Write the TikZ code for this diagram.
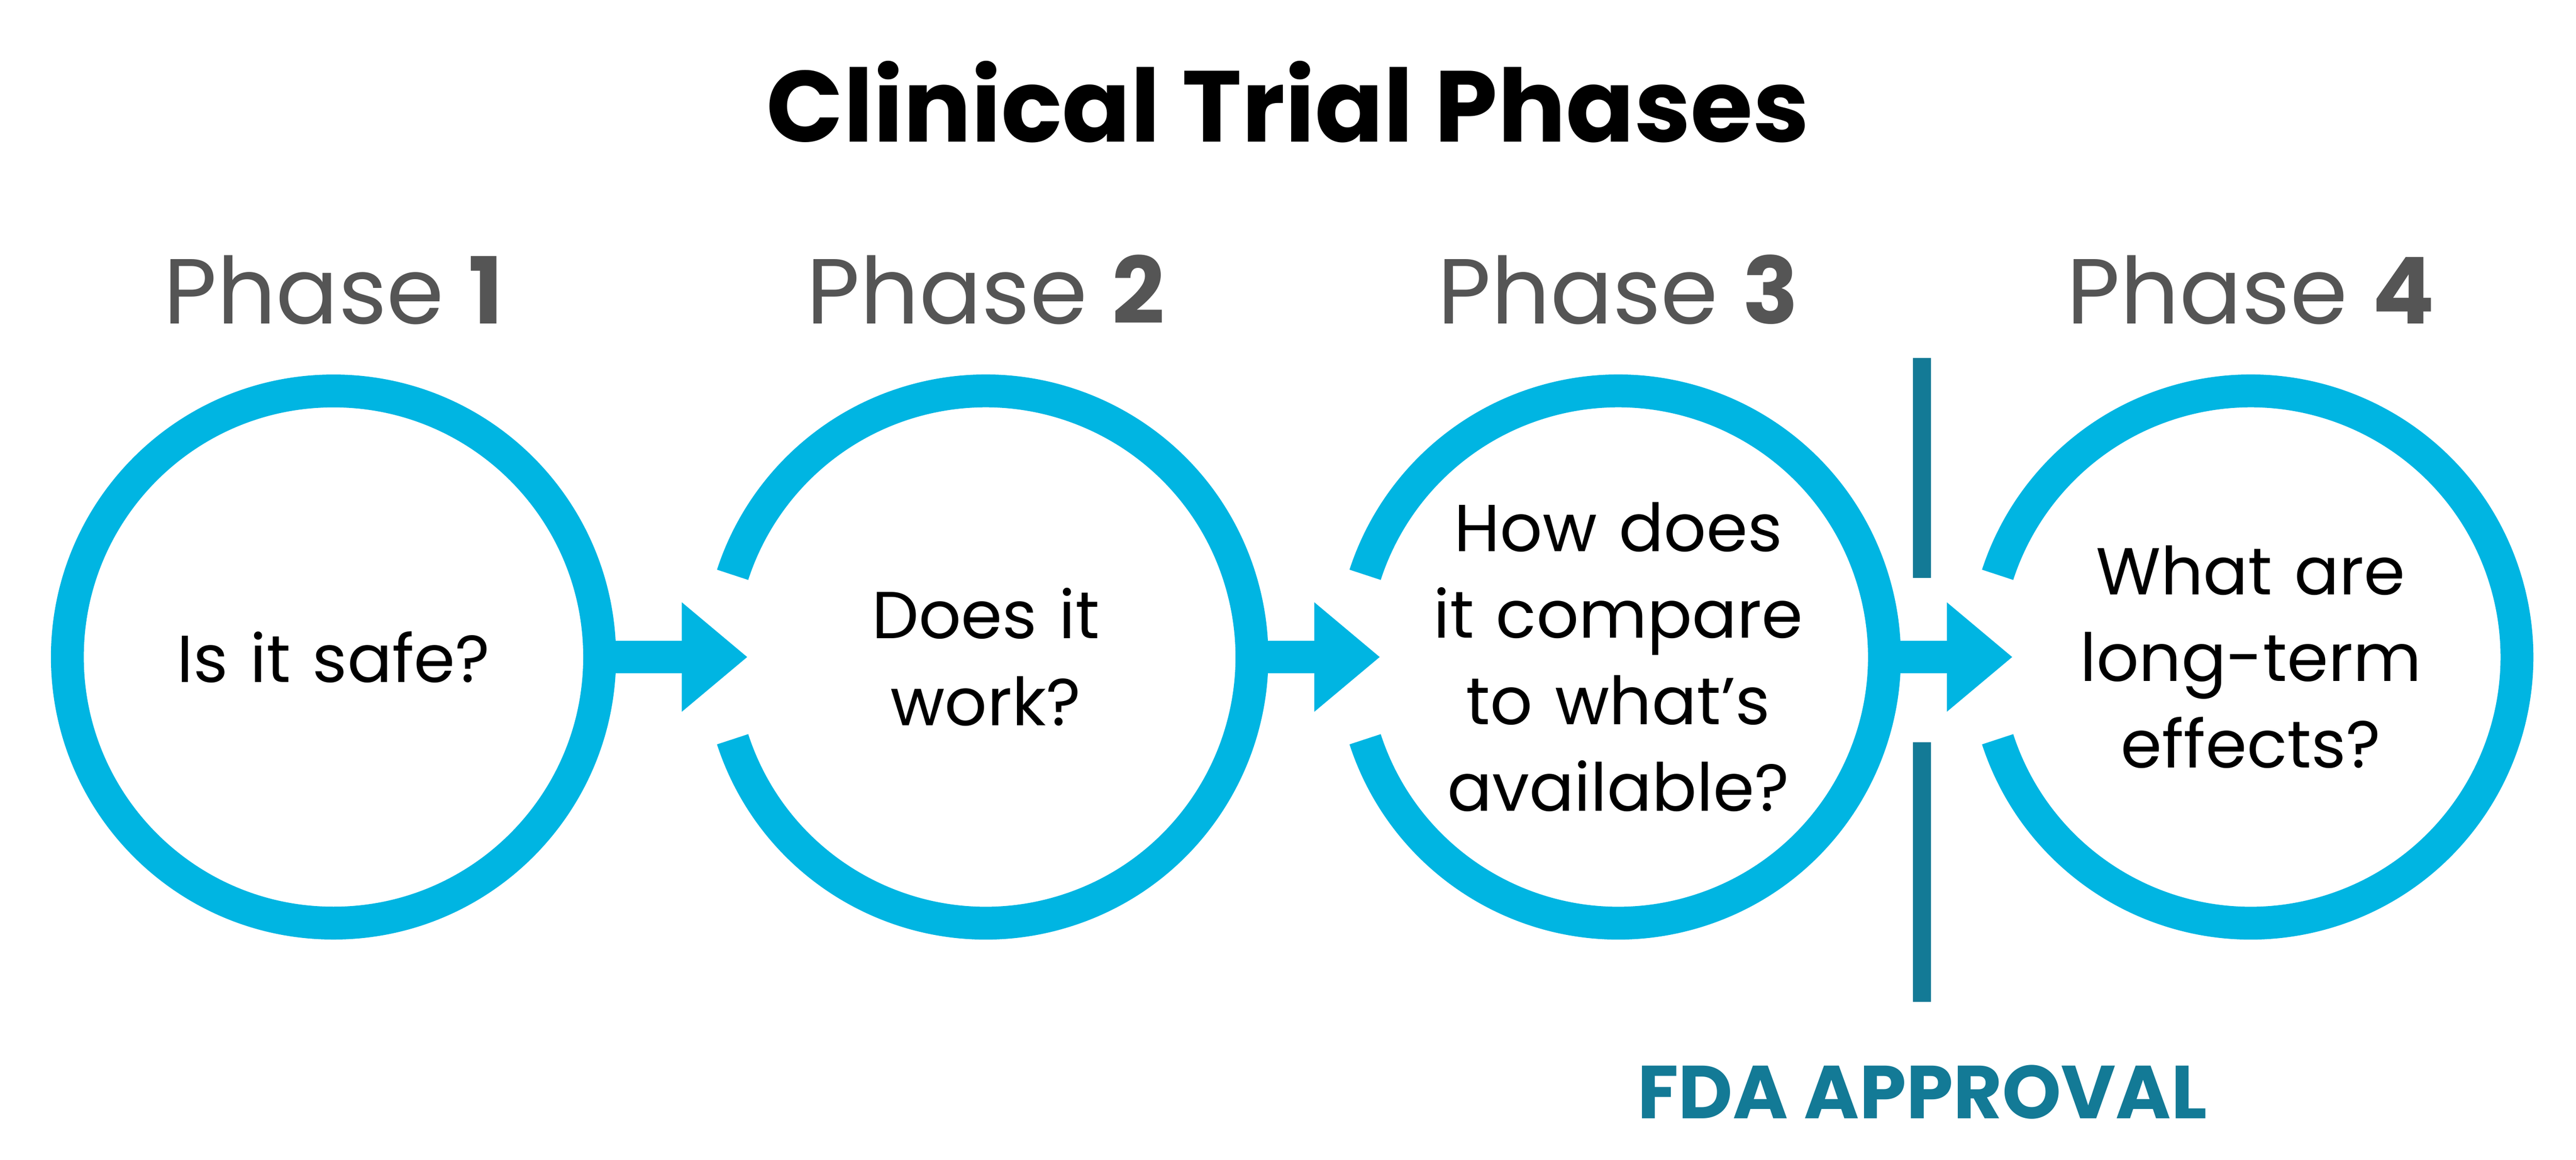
\documentclass[tikz,border=0pt]{standalone}
\usepackage{fontspec}
\setmainfont{Poppins}
\usepackage{xcolor}
\usetikzlibrary{arrows.meta,positioning,calc}
\definecolor{trialcyan}{HTML}{00B5E2}
\definecolor{fdateal}{HTML}{137A96}
\definecolor{phasegray}{HTML}{555555}

\begin{document}
\begin{tikzpicture}[
    ring/.style={circle, minimum size=3.24cm, inner sep=0pt, outer sep=0pt},
    question/.style={align=center, font=\fontsize{11.5}{15}\selectfont, text width=2.6cm},
    phaselabel/.style={font=\fontsize{16}{18}\selectfont, text=phasegray},
    flow/.style={-{Triangle[length=0.4cm,width=0.64cm]}, line width=0.2cm, draw=trialcyan},
    gate/.style={line width=0.11cm, draw=fdateal}
]
\useasboundingbox (0,0) rectangle (15.68,7.06);

\node[font=\bfseries\fontsize{17.5}{20}\selectfont] (title) at (7.84,6.44) {Clinical Trial Phases};

% circles
\node[ring] (c1) at (2.03,3.06) {};
\node[ring] (c2) at (6.00,3.06) {};
\node[ring] (c3) at (9.85,3.06) {};
\node[ring] (c4) at (13.70,3.06) {};
\draw[trialcyan, line width=0.2cm] (c1) circle (1.62);
\foreach \c in {c2,c3,c4}
  \draw[trialcyan, line width=0.2cm] ($(\c.center)+(-162:1.62)$) arc (-162:162:1.62);

% phase labels
\node[phaselabel, above=0.28cm of c1] (p1) {Phase \textbf{1}};
\node[phaselabel, above=0.28cm of c2] (p2) {Phase \textbf{2}};
\node[phaselabel, above=0.28cm of c3] (p3) {Phase \textbf{3}};
\node[phaselabel, above=0.28cm of c4] (p4) {Phase \textbf{4}};

% questions
\node[question] (q1) at (c1) {Is it safe?};
\node[question] (q2) at (c2) {Does it\\work?};
\node[question, text width=2.9cm] (q3) at (c3) {How does\\it compare\\to what's\\available?};
\node[question] (q4) at (c4) {What are\\long-term\\effects?};

% arrows
\draw[flow] (c1.east) -- ($(c2.west)+(0.17,0)$);
\draw[flow] (c2.east) -- ($(c3.west)+(0.17,0)$);
\draw[flow] (c3.east) -- ($(c4.west)+(0.17,0)$);

% approval gate
\coordinate (g1) at (11.70,4.88);
\coordinate (g2) at (11.70,3.54);
\coordinate (g3) at (11.70,2.54);
\coordinate (g4) at (11.70,0.96);
\draw[gate] (g1) -- (g2);
\draw[gate] (g3) -- (g4);
\node[font=\bfseries\fontsize{13}{15}\selectfont, text=fdateal] (fda) at (11.70,0.41) {FDA APPROVAL};
\end{tikzpicture}
\end{document}
